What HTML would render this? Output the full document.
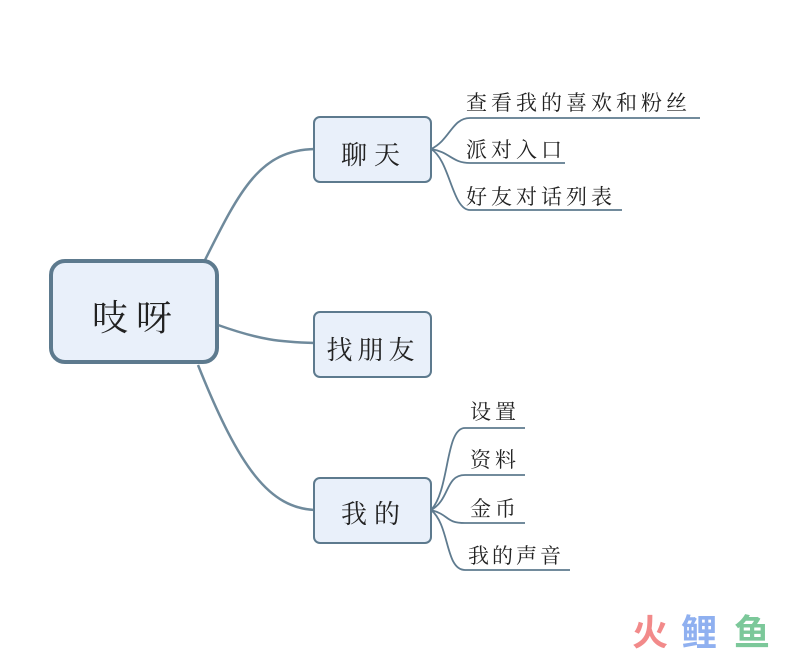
<!DOCTYPE html>
<html><head><meta charset="utf-8"><style>
body{margin:0;background:#fff;width:800px;height:656px;overflow:hidden}
svg text{font-family:"Liberation Serif","Noto Serif CJK SC",serif;fill:#222}
</style></head><body>
<svg width="800" height="656" xmlns="http://www.w3.org/2000/svg">
<g fill="none" stroke="#6f8a9c" stroke-width="2.5">
<path d="M205 260 C240 190 260 150 315 149"/>
<path d="M218 325 C260 340 280 342 315 343"/>
<path d="M198 365 C240 470 270 508 315 510"/>
</g>
<g fill="none" stroke="#5f7b8f" stroke-width="1.8">
<path d="M431 149 C450 140 452 118 470 118 L700 118"/>
<path d="M431 149 C450 152 452 163 470 163 L565 163"/>
<path d="M431 149 C450 160 452 210 470 210 L622 210"/>
<path d="M431 510 C450 490 445 428 465 428 L525 428"/>
<path d="M431 510 C450 500 445 475 465 475 L525 475"/>
<path d="M431 510 C450 515 445 523 465 523 L525 523"/>
<path d="M431 510 C450 525 445 570 465 570 L570 570"/>
</g>
<rect x="51" y="261" width="166" height="101" rx="14" fill="#e9f0fa" stroke="#5d7a8e" stroke-width="4"/>
<rect x="314" y="117" width="117" height="65" rx="6" fill="#e9f0fa" stroke="#5d7a8e" stroke-width="2"/>
<rect x="314" y="312" width="117" height="65" rx="6" fill="#e9f0fa" stroke="#5d7a8e" stroke-width="2"/>
<rect x="314" y="478" width="117" height="65" rx="6" fill="#e9f0fa" stroke="#5d7a8e" stroke-width="2"/>
<text x="136" y="330" font-size="36" text-anchor="middle" letter-spacing="8">吱呀</text>
<text x="374" y="164" font-size="26" text-anchor="middle" letter-spacing="7">聊天</text>
<text x="373" y="359" font-size="26" text-anchor="middle" letter-spacing="5">找朋友</text>
<text x="374" y="523" font-size="26" text-anchor="middle" letter-spacing="7">我的</text>
<g font-size="21">
<text x="466" y="110" letter-spacing="4">查看我的喜欢和粉丝</text>
<text x="466" y="157" letter-spacing="4">派对入口</text>
<text x="466" y="204" letter-spacing="4">好友对话列表</text>
<text x="470" y="419" letter-spacing="4">设置</text>
<text x="470" y="467" letter-spacing="4">资料</text>
<text x="470" y="516" letter-spacing="4">金币</text>
<text x="468" y="563" letter-spacing="3">我的声音</text>
</g>
<g font-size="36" font-weight="bold">
<text x="632" y="645" style="fill:#f28a8a;font-family:'Noto Sans CJK SC',sans-serif">火</text>
<text x="681" y="645" style="fill:#8fb0f0;font-family:'Noto Sans CJK SC',sans-serif">鲤</text>
<text x="734" y="645" style="fill:#7cc89a;font-family:'Noto Sans CJK SC',sans-serif">鱼</text>
</g>
</svg>
</body></html>
